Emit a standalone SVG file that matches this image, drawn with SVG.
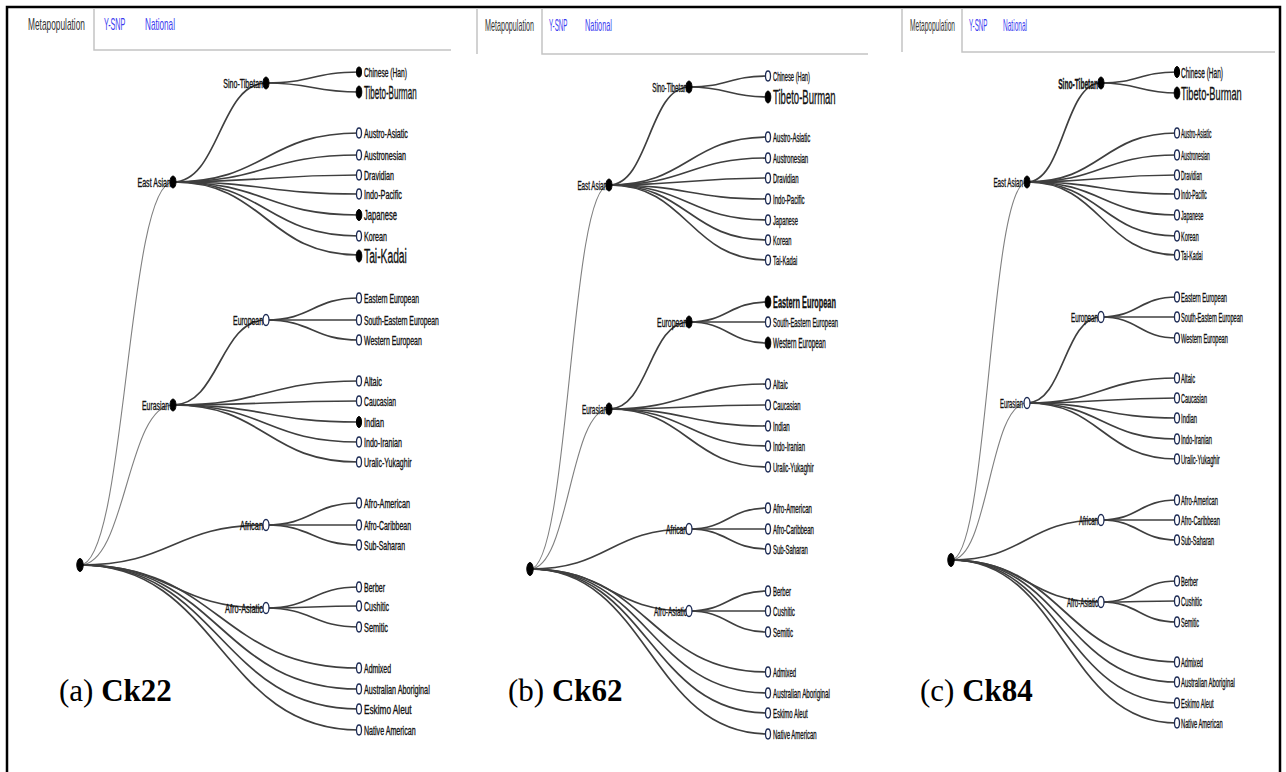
<svg xmlns="http://www.w3.org/2000/svg" width="1286" height="772" viewBox="0 0 1286 772">
<style>
text{font-family:"Liberation Sans",Arial,sans-serif;fill:#111}
.ln{fill:none;stroke:#3f3f3f;stroke-width:1.7}
.thin{stroke:#808080;stroke-width:1.1}
.op{fill:#fff;stroke:#1d2b55;stroke-width:1.3}
.fl{fill:#000;stroke:#000;stroke-width:1}
.lf{font-size:12.5px;stroke:#111;stroke-width:0.35}
.in{font-size:12px;text-anchor:end;stroke:#111;stroke-width:0.35}
.tab{font-size:16px;fill:#333}
.blue{fill:#3a3cf0}
.tl{fill:none;stroke:#c4c4c4;stroke-width:1.5}
.cap{font-family:"Liberation Serif","Times New Roman",serif;font-size:31px;fill:#000}
.frame{fill:none;stroke:#000;stroke-width:2.5}
</style>
<path class="frame" d="M7,772V7H1280V772"/>

<!-- ================= Panel (a) ================= -->
<g id="a-tabs">
<path class="tl" d="M94,8V50H451"/>
<text class="tab" transform="matrix(0.521 0 0 1 28 30)">Metapopulation</text>
<text class="tab blue" transform="matrix(0.45 0 0 1 104 30)">Y-SNP</text>
<text class="tab blue" transform="matrix(0.511 0 0 1 145 30)">National</text>
</g>
<g id="a-links" class="ln">
<path class="thin" d="M80,565C126.5,565 126.5,182 173,182"/>
<path class="thin" d="M80,565C126.5,565 126.5,405 173,405"/>
<path d="M80,565C173,565 173,525 266,525"/>
<path d="M80,565C173,565 173,608 266,608"/>
<path d="M80,565C219.5,565 219.5,668 359,668"/>
<path d="M80,565C219.5,565 219.5,689 359,689"/>
<path d="M80,565C219.5,565 219.5,709 359,709"/>
<path d="M80,565C219.5,565 219.5,730 359,730"/>
<path d="M173,182C219.5,182 219.5,83 266,83"/>
<path d="M173,182C266,182 266,133 359,133"/>
<path d="M173,182C266,182 266,155 359,155"/>
<path d="M173,182C266,182 266,175 359,175"/>
<path d="M173,182C266,182 266,194 359,194"/>
<path d="M173,182C266,182 266,215 359,215"/>
<path d="M173,182C266,182 266,236 359,236"/>
<path d="M173,182C266,182 266,255 359,255"/>
<path d="M266,83C312.5,83 312.5,72 359,72"/>
<path d="M266,83C312.5,83 312.5,92 359,92"/>
<path d="M173,405C219.5,405 219.5,320 266,320"/>
<path d="M173,405C266,405 266,381 359,381"/>
<path d="M173,405C266,405 266,401 359,401"/>
<path d="M173,405C266,405 266,422 359,422"/>
<path d="M173,405C266,405 266,442 359,442"/>
<path d="M173,405C266,405 266,462 359,462"/>
<path d="M266,320C312.5,320 312.5,298 359,298"/>
<path d="M266,320C312.5,320 312.5,320 359,320"/>
<path d="M266,320C312.5,320 312.5,340 359,340"/>
<path d="M266,525C312.5,525 312.5,503 359,503"/>
<path d="M266,525C312.5,525 312.5,525 359,525"/>
<path d="M266,525C312.5,525 312.5,545 359,545"/>
<path d="M266,608C312.5,608 312.5,587 359,587"/>
<path d="M266,608C312.5,608 312.5,606 359,606"/>
<path d="M266,608C312.5,608 312.5,627 359,627"/>
</g>
<g id="a-root"><ellipse class="fl" cx="80" cy="565" rx="3.2" ry="6.5"/></g>
<g id="a-east-asian"><text class="in" transform="matrix(0.592 0 0 1 171 186.5)">East Asian</text><ellipse class="fl" cx="173" cy="182" rx="3" ry="6"/></g>
<g id="a-sino-tibetan"><text class="in" transform="matrix(0.588 0 0 1 263 87.5)">Sino-Tibetan</text><ellipse class="fl" cx="266" cy="83" rx="3" ry="6"/></g>
<g id="a-eurasian"><text class="in" transform="matrix(0.57 0 0 1 169 409.5)">Eurasian</text><ellipse class="fl" cx="173" cy="405" rx="3" ry="6"/></g>
<g id="a-european"><text class="in" transform="matrix(0.576 0 0 1 263 324.5)">European</text><ellipse class="op" cx="266" cy="320" rx="3" ry="5.5"/></g>
<g id="a-african"><text class="in" transform="matrix(0.616 0 0 1 263 529.5)">African</text><ellipse class="op" cx="266" cy="525" rx="3" ry="5.5"/></g>
<g id="a-afro-asiatic"><text class="in" transform="matrix(0.619 0 0 1 263 612.5)">Afro-Asiatic</text><ellipse class="op" cx="266" cy="608" rx="3" ry="5.5"/></g>
<g id="a-chinese-han"><ellipse class="fl" cx="359" cy="72" rx="2.5" ry="5"/><text class="lf" transform="matrix(0.534 0 0 1 364 76.5)">Chinese (Han)</text></g>
<g id="a-tibeto-burman"><ellipse class="fl" cx="359" cy="92" rx="2.8" ry="6"/><text class="lf" style="font-size:18px" transform="matrix(0.445 0 0 1 364 98.5)">Tibeto-Burman</text></g>
<g id="a-austro-asiatic"><ellipse class="op" cx="359" cy="133" rx="2.5" ry="5"/><text class="lf" transform="matrix(0.571 0 0 1 364 137.5)">Austro-Asiatic</text></g>
<g id="a-austronesian"><ellipse class="op" cx="359" cy="155" rx="2.5" ry="5"/><text class="lf" transform="matrix(0.576 0 0 1 364 159.5)">Austronesian</text></g>
<g id="a-dravidian"><ellipse class="op" cx="359" cy="175" rx="2.5" ry="5"/><text class="lf" transform="matrix(0.568 0 0 1 364 179.5)">Dravidian</text></g>
<g id="a-indo-pacific"><ellipse class="op" cx="359" cy="194" rx="2.5" ry="5"/><text class="lf" transform="matrix(0.582 0 0 1 364 198.5)">Indo-Pacific</text></g>
<g id="a-japanese"><ellipse class="fl" cx="359" cy="215" rx="2.8" ry="5.5"/><text class="lf" style="font-size:14.5px" transform="matrix(0.525 0 0 1 364 220)">Japanese</text></g>
<g id="a-korean"><ellipse class="op" cx="359" cy="236" rx="2.5" ry="5"/><text class="lf" transform="matrix(0.571 0 0 1 364 240.5)">Korean</text></g>
<g id="a-tai-kadai"><ellipse class="fl" cx="359" cy="256" rx="2.8" ry="6"/><text class="lf" style="font-size:21px" transform="matrix(0.49 0 0 1 364 263)">Tai-Kadai</text></g>
<g id="a-eastern-european"><ellipse class="op" cx="359" cy="298" rx="2.5" ry="5"/><text class="lf" transform="matrix(0.546 0 0 1 364 302.5)">Eastern European</text></g>
<g id="a-south-eastern-european"><ellipse class="op" cx="359" cy="320" rx="2.5" ry="5"/><text class="lf" transform="matrix(0.545 0 0 1 364 324.5)">South-Eastern European</text></g>
<g id="a-western-european"><ellipse class="op" cx="359" cy="340" rx="2.5" ry="5"/><text class="lf" transform="matrix(0.556 0 0 1 364 344.5)">Western European</text></g>
<g id="a-altaic"><ellipse class="op" cx="359" cy="381" rx="2.5" ry="5"/><text class="lf" transform="matrix(0.589 0 0 1 364 385.5)">Altaic</text></g>
<g id="a-caucasian"><ellipse class="op" cx="359" cy="401" rx="2.5" ry="5"/><text class="lf" transform="matrix(0.542 0 0 1 364 405.5)">Caucasian</text></g>
<g id="a-indian"><ellipse class="fl" cx="359" cy="422" rx="2.6" ry="5.5"/><text class="lf" transform="matrix(0.588 0 0 1 364 426.5)">Indian</text></g>
<g id="a-indo-iranian"><ellipse class="op" cx="359" cy="442" rx="2.5" ry="5"/><text class="lf" transform="matrix(0.569 0 0 1 364 446.5)">Indo-Iranian</text></g>
<g id="a-uralic-yukaghir"><ellipse class="op" cx="359" cy="462" rx="2.5" ry="5"/><text class="lf" transform="matrix(0.562 0 0 1 364 466.5)">Uralic-Yukaghir</text></g>
<g id="a-afro-american"><ellipse class="op" cx="359" cy="503" rx="2.5" ry="5"/><text class="lf" transform="matrix(0.576 0 0 1 364 507.5)">Afro-American</text></g>
<g id="a-afro-caribbean"><ellipse class="op" cx="359" cy="525" rx="2.5" ry="5"/><text class="lf" transform="matrix(0.554 0 0 1 364 529.5)">Afro-Caribbean</text></g>
<g id="a-sub-saharan"><ellipse class="op" cx="359" cy="545" rx="2.5" ry="5"/><text class="lf" transform="matrix(0.557 0 0 1 364 549.5)">Sub-Saharan</text></g>
<g id="a-berber"><ellipse class="op" cx="359" cy="587" rx="2.5" ry="5"/><text class="lf" transform="matrix(0.56 0 0 1 364 591.5)">Berber</text></g>
<g id="a-cushitic"><ellipse class="op" cx="359" cy="606" rx="2.5" ry="5"/><text class="lf" transform="matrix(0.562 0 0 1 364 610.5)">Cushitic</text></g>
<g id="a-semitic"><ellipse class="op" cx="359" cy="627" rx="2.5" ry="5"/><text class="lf" transform="matrix(0.586 0 0 1 364 631.5)">Semitic</text></g>
<g id="a-admixed"><ellipse class="op" cx="359" cy="668" rx="2.5" ry="5"/><text class="lf" transform="matrix(0.555 0 0 1 364 672.5)">Admixed</text></g>
<g id="a-australian-aboriginal"><ellipse class="op" cx="359" cy="689" rx="2.5" ry="5"/><text class="lf" transform="matrix(0.578 0 0 1 364 693.5)">Australian Aboriginal</text></g>
<g id="a-eskimo-aleut"><ellipse class="op" cx="359" cy="709" rx="2.5" ry="5"/><text class="lf" transform="matrix(0.66 0 0 1 364 713.5)">Eskimo Aleut</text></g>
<g id="a-native-american"><ellipse class="op" cx="359" cy="730" rx="2.5" ry="5"/><text class="lf" transform="matrix(0.567 0 0 1 364 734.5)">Native American</text></g>
<text class="cap" x="59" y="701">(a) <tspan style="font-family:'Liberation Serif','Times New Roman',serif;font-weight:bold">Ck22</tspan></text>

<!-- ================= Panel (b) ================= -->
<g id="b-tabs">
<path class="tl" d="M477,8V54M542,8V54H868"/>
<text class="tab" transform="matrix(0.448 0 0 1 485 31)">Metapopulation</text>
<text class="tab blue" transform="matrix(0.389 0 0 1 549 31)">Y-SNP</text>
<text class="tab blue" transform="matrix(0.459 0 0 1 585 31)">National</text>
</g>
<g id="b-links" class="ln">
<path class="thin" d="M530,569C569.5,569 569.5,185 609,185"/>
<path class="thin" d="M530,569C569.5,569 569.5,409 609,409"/>
<path d="M530,569C609.5,569 609.5,529 689,529"/>
<path d="M530,569C609.5,569 609.5,611 689,611"/>
<path d="M530,569C649,569 649,672 768,672"/>
<path d="M530,569C649,569 649,693 768,693"/>
<path d="M530,569C649,569 649,713 768,713"/>
<path d="M530,569C649,569 649,734 768,734"/>
<path d="M609,185C649,185 649,87 689,87"/>
<path d="M609,185C688.5,185 688.5,137 768,137"/>
<path d="M609,185C688.5,185 688.5,158 768,158"/>
<path d="M609,185C688.5,185 688.5,178 768,178"/>
<path d="M609,185C688.5,185 688.5,199 768,199"/>
<path d="M609,185C688.5,185 688.5,220 768,220"/>
<path d="M609,185C688.5,185 688.5,240 768,240"/>
<path d="M609,185C688.5,185 688.5,260 768,260"/>
<path d="M689,87C728.5,87 728.5,76 768,76"/>
<path d="M689,87C728.5,87 728.5,97 768,97"/>
<path d="M609,409C649,409 649,322 689,322"/>
<path d="M609,409C688.5,409 688.5,384 768,384"/>
<path d="M609,409C688.5,409 688.5,405 768,405"/>
<path d="M609,409C688.5,409 688.5,426 768,426"/>
<path d="M609,409C688.5,409 688.5,446 768,446"/>
<path d="M609,409C688.5,409 688.5,467 768,467"/>
<path d="M689,322C728.5,322 728.5,302 768,302"/>
<path d="M689,322C728.5,322 728.5,322 768,322"/>
<path d="M689,322C728.5,322 728.5,343 768,343"/>
<path d="M689,529C728.5,529 728.5,508 768,508"/>
<path d="M689,529C728.5,529 728.5,529 768,529"/>
<path d="M689,529C728.5,529 728.5,549 768,549"/>
<path d="M689,611C728.5,611 728.5,591 768,591"/>
<path d="M689,611C728.5,611 728.5,611 768,611"/>
<path d="M689,611C728.5,611 728.5,632 768,632"/>
</g>
<g id="b-root"><ellipse class="fl" cx="530" cy="569" rx="3.2" ry="6.5"/></g>
<g id="b-east-asian"><text class="in" transform="matrix(0.523 0 0 1 607 189.5)">East Asian</text><ellipse class="fl" cx="609" cy="185" rx="3" ry="6"/></g>
<g id="b-sino-tibetan"><text class="in" transform="matrix(0.514 0 0 1 687 91.5)">Sino-Tibetan</text><ellipse class="fl" cx="689" cy="87" rx="3" ry="6"/></g>
<g id="b-eurasian"><text class="in" transform="matrix(0.528 0 0 1 607 413.5)">Eurasian</text><ellipse class="fl" cx="609" cy="409" rx="3" ry="6"/></g>
<g id="b-european"><text class="in" transform="matrix(0.576 0 0 1 687 326.5)">European</text><ellipse class="fl" cx="689" cy="322" rx="3" ry="6"/></g>
<g id="b-african"><text class="in" transform="matrix(0.562 0 0 1 687 533.5)">African</text><ellipse class="op" cx="689" cy="529" rx="3" ry="5.5"/></g>
<g id="b-afro-asiatic"><text class="in" transform="matrix(0.538 0 0 1 687 615.5)">Afro-Asiatic</text><ellipse class="op" cx="689" cy="611" rx="3" ry="5.5"/></g>
<g id="b-chinese-han"><ellipse class="op" cx="768" cy="76" rx="2.5" ry="5"/><text class="lf" transform="matrix(0.459 0 0 1 773 80.5)">Chinese (Han)</text></g>
<g id="b-tibeto-burman"><ellipse class="fl" cx="768" cy="97" rx="2.8" ry="6"/><text class="lf" style="font-size:21px" transform="matrix(0.454 0 0 1 773 104)">Tibeto-Burman</text></g>
<g id="b-austro-asiatic"><ellipse class="op" cx="768" cy="137" rx="2.5" ry="5"/><text class="lf" transform="matrix(0.484 0 0 1 773 141.5)">Austro-Asiatic</text></g>
<g id="b-austronesian"><ellipse class="op" cx="768" cy="158" rx="2.5" ry="5"/><text class="lf" transform="matrix(0.484 0 0 1 773 162.5)">Austronesian</text></g>
<g id="b-dravidian"><ellipse class="op" cx="768" cy="178" rx="2.5" ry="5"/><text class="lf" transform="matrix(0.484 0 0 1 773 182.5)">Dravidian</text></g>
<g id="b-indo-pacific"><ellipse class="op" cx="768" cy="199" rx="2.5" ry="5"/><text class="lf" transform="matrix(0.484 0 0 1 773 203.5)">Indo-Pacific</text></g>
<g id="b-japanese"><ellipse class="op" cx="768" cy="220" rx="2.5" ry="5"/><text class="lf" transform="matrix(0.458 0 0 1 773 224.5)">Japanese</text></g>
<g id="b-korean"><ellipse class="op" cx="768" cy="240" rx="2.5" ry="5"/><text class="lf" transform="matrix(0.458 0 0 1 773 244.5)">Korean</text></g>
<g id="b-tai-kadai"><ellipse class="op" cx="768" cy="260" rx="2.5" ry="5"/><text class="lf" transform="matrix(0.466 0 0 1 773 264.5)">Tai-Kadai</text></g>
<g id="b-eastern-european"><ellipse class="fl" cx="768" cy="302" rx="2.8" ry="6"/><text class="lf" style="font-size:16.5px;font-weight:bold" transform="matrix(0.446 0 0 1 773 308)">Eastern European</text></g>
<g id="b-south-eastern-european"><ellipse class="op" cx="768" cy="322" rx="2.5" ry="5"/><text class="lf" transform="matrix(0.473 0 0 1 773 326.5)">South-Eastern European</text></g>
<g id="b-western-european"><ellipse class="fl" cx="768" cy="343" rx="2.8" ry="6"/><text class="lf" style="font-size:14.5px" transform="matrix(0.438 0 0 1 773 348)">Western European</text></g>
<g id="b-altaic"><ellipse class="op" cx="768" cy="384" rx="2.5" ry="5"/><text class="lf" transform="matrix(0.484 0 0 1 773 388.5)">Altaic</text></g>
<g id="b-caucasian"><ellipse class="op" cx="768" cy="405" rx="2.5" ry="5"/><text class="lf" transform="matrix(0.466 0 0 1 773 409.5)">Caucasian</text></g>
<g id="b-indian"><ellipse class="op" cx="768" cy="426" rx="2.5" ry="5"/><text class="lf" transform="matrix(0.493 0 0 1 773 430.5)">Indian</text></g>
<g id="b-indo-iranian"><ellipse class="op" cx="768" cy="446" rx="2.5" ry="5"/><text class="lf" transform="matrix(0.48 0 0 1 773 450.5)">Indo-Iranian</text></g>
<g id="b-uralic-yukaghir"><ellipse class="op" cx="768" cy="467" rx="2.5" ry="5"/><text class="lf" transform="matrix(0.48 0 0 1 773 471.5)">Uralic-Yukaghir</text></g>
<g id="b-afro-american"><ellipse class="op" cx="768" cy="508" rx="2.5" ry="5"/><text class="lf" transform="matrix(0.488 0 0 1 773 512.5)">Afro-American</text></g>
<g id="b-afro-caribbean"><ellipse class="op" cx="768" cy="529" rx="2.5" ry="5"/><text class="lf" transform="matrix(0.484 0 0 1 773 533.5)">Afro-Caribbean</text></g>
<g id="b-sub-saharan"><ellipse class="op" cx="768" cy="549" rx="2.5" ry="5"/><text class="lf" transform="matrix(0.475 0 0 1 773 553.5)">Sub-Saharan</text></g>
<g id="b-berber"><ellipse class="op" cx="768" cy="591" rx="2.5" ry="5"/><text class="lf" transform="matrix(0.48 0 0 1 773 595.5)">Berber</text></g>
<g id="b-cushitic"><ellipse class="op" cx="768" cy="611" rx="2.5" ry="5"/><text class="lf" transform="matrix(0.493 0 0 1 773 615.5)">Cushitic</text></g>
<g id="b-semitic"><ellipse class="op" cx="768" cy="632" rx="2.5" ry="5"/><text class="lf" transform="matrix(0.488 0 0 1 773 636.5)">Semitic</text></g>
<g id="b-admixed"><ellipse class="op" cx="768" cy="672" rx="2.5" ry="5"/><text class="lf" transform="matrix(0.475 0 0 1 773 676.5)">Admixed</text></g>
<g id="b-australian-aboriginal"><ellipse class="op" cx="768" cy="693" rx="2.5" ry="5"/><text class="lf" transform="matrix(0.5 0 0 1 773 697.5)">Australian Aboriginal</text></g>
<g id="b-eskimo-aleut"><ellipse class="op" cx="768" cy="713" rx="2.5" ry="5"/><text class="lf" transform="matrix(0.48 0 0 1 773 717.5)">Eskimo Aleut</text></g>
<g id="b-native-american"><ellipse class="op" cx="768" cy="734" rx="2.5" ry="5"/><text class="lf" transform="matrix(0.48 0 0 1 773 738.5)">Native American</text></g>
<text class="cap" x="508" y="701">(b) <tspan style="font-family:'Liberation Serif','Times New Roman',serif;font-weight:bold">Ck62</tspan></text>

<!-- ================= Panel (c) ================= -->
<g id="c-tabs">
<path class="tl" d="M902,8V52M962,8V52H1275"/>
<text class="tab" transform="matrix(0.412 0 0 1 910 31)">Metapopulation</text>
<text class="tab blue" transform="matrix(0.389 0 0 1 969 31)">Y-SNP</text>
<text class="tab blue" transform="matrix(0.409 0 0 1 1003 31)">National</text>
</g>
<g id="c-links" class="ln">
<path class="thin" d="M951,560C989,560 989,182 1027,182"/>
<path class="thin" d="M951,560C989,560 989,403 1027,403"/>
<path d="M951,560C1026,560 1026,520 1101,520"/>
<path d="M951,560C1026,560 1026,602 1101,602"/>
<path d="M951,560C1064,560 1064,662 1177,662"/>
<path d="M951,560C1064,560 1064,682 1177,682"/>
<path d="M951,560C1064,560 1064,703 1177,703"/>
<path d="M951,560C1064,560 1064,723 1177,723"/>
<path d="M1027,182C1064,182 1064,83 1101,83"/>
<path d="M1027,182C1102,182 1102,133 1177,133"/>
<path d="M1027,182C1102,182 1102,155 1177,155"/>
<path d="M1027,182C1102,182 1102,175 1177,175"/>
<path d="M1027,182C1102,182 1102,194 1177,194"/>
<path d="M1027,182C1102,182 1102,215 1177,215"/>
<path d="M1027,182C1102,182 1102,236 1177,236"/>
<path d="M1027,182C1102,182 1102,255 1177,255"/>
<path d="M1101,83C1139,83 1139,72 1177,72"/>
<path d="M1101,83C1139,83 1139,93 1177,93"/>
<path d="M1027,403C1064,403 1064,317 1101,317"/>
<path d="M1027,403C1102,403 1102,378 1177,378"/>
<path d="M1027,403C1102,403 1102,398 1177,398"/>
<path d="M1027,403C1102,403 1102,418 1177,418"/>
<path d="M1027,403C1102,403 1102,439 1177,439"/>
<path d="M1027,403C1102,403 1102,459 1177,459"/>
<path d="M1101,317C1139,317 1139,297 1177,297"/>
<path d="M1101,317C1139,317 1139,317 1177,317"/>
<path d="M1101,317C1139,317 1139,338 1177,338"/>
<path d="M1101,520C1139,520 1139,500 1177,500"/>
<path d="M1101,520C1139,520 1139,520 1177,520"/>
<path d="M1101,520C1139,520 1139,540 1177,540"/>
<path d="M1101,602C1139,602 1139,581 1177,581"/>
<path d="M1101,602C1139,602 1139,601 1177,601"/>
<path d="M1101,602C1139,602 1139,622 1177,622"/>
</g>
<g id="c-root"><ellipse class="fl" cx="951" cy="560" rx="3.2" ry="6.5"/></g>
<g id="c-east-asian"><text class="in" transform="matrix(0.523 0 0 1 1023 186.5)">East Asian</text><ellipse class="fl" cx="1027" cy="182" rx="3" ry="6"/></g>
<g id="c-sino-tibetan"><text class="in" style="font-size:14px;font-weight:bold" transform="matrix(0.472 0 0 1 1098 88.5)">Sino-Tibetan</text><ellipse class="fl" cx="1101" cy="83" rx="3" ry="6"/></g>
<g id="c-eurasian"><text class="in" transform="matrix(0.486 0 0 1 1023 407.5)">Eurasian</text><ellipse class="op" cx="1027" cy="403" rx="3" ry="5.5"/></g>
<g id="c-european"><text class="in" transform="matrix(0.519 0 0 1 1098 321.5)">European</text><ellipse class="op" cx="1101" cy="317" rx="3" ry="5.5"/></g>
<g id="c-african"><text class="in" transform="matrix(0.508 0 0 1 1098 524.5)">African</text><ellipse class="op" cx="1101" cy="520" rx="3" ry="5.5"/></g>
<g id="c-afro-asiatic"><text class="in" transform="matrix(0.505 0 0 1 1098 606.5)">Afro-Asiatic</text><ellipse class="op" cx="1101" cy="602" rx="3" ry="5.5"/></g>
<g id="c-chinese-han"><ellipse class="fl" cx="1177" cy="72" rx="2.6" ry="5.5"/><text class="lf" style="font-size:15px" transform="matrix(0.434 0 0 1 1181 77.5)">Chinese (Han)</text></g>
<g id="c-tibeto-burman"><ellipse class="fl" cx="1177" cy="93" rx="2.8" ry="6"/><text class="lf" style="font-size:19px" transform="matrix(0.486 0 0 1 1181 100)">Tibeto-Burman</text></g>
<g id="c-austro-asiatic"><ellipse class="op" cx="1177" cy="133" rx="2.5" ry="5"/><text class="lf" transform="matrix(0.396 0 0 1 1181 137.5)">Austro-Asiatic</text></g>
<g id="c-austronesian"><ellipse class="op" cx="1177" cy="155" rx="2.5" ry="5"/><text class="lf" transform="matrix(0.396 0 0 1 1181 159.5)">Austronesian</text></g>
<g id="c-dravidian"><ellipse class="op" cx="1177" cy="175" rx="2.5" ry="5"/><text class="lf" transform="matrix(0.396 0 0 1 1181 179.5)">Dravidian</text></g>
<g id="c-indo-pacific"><ellipse class="op" cx="1177" cy="194" rx="2.5" ry="5"/><text class="lf" transform="matrix(0.396 0 0 1 1181 198.5)">Indo-Pacific</text></g>
<g id="c-japanese"><ellipse class="op" cx="1177" cy="215" rx="2.5" ry="5"/><text class="lf" transform="matrix(0.414 0 0 1 1181 219.5)">Japanese</text></g>
<g id="c-korean"><ellipse class="op" cx="1177" cy="236" rx="2.5" ry="5"/><text class="lf" transform="matrix(0.44 0 0 1 1181 240.5)">Korean</text></g>
<g id="c-tai-kadai"><ellipse class="op" cx="1177" cy="255" rx="2.5" ry="5"/><text class="lf" transform="matrix(0.414 0 0 1 1181 259.5)">Tai-Kadai</text></g>
<g id="c-eastern-european"><ellipse class="op" cx="1177" cy="297" rx="2.5" ry="5"/><text class="lf" transform="matrix(0.457 0 0 1 1181 301.5)">Eastern European</text></g>
<g id="c-south-eastern-european"><ellipse class="op" cx="1177" cy="317" rx="2.5" ry="5"/><text class="lf" transform="matrix(0.451 0 0 1 1181 321.5)">South-Eastern European</text></g>
<g id="c-western-european"><ellipse class="op" cx="1177" cy="338" rx="2.5" ry="5"/><text class="lf" transform="matrix(0.451 0 0 1 1181 342.5)">Western European</text></g>
<g id="c-altaic"><ellipse class="op" cx="1177" cy="378" rx="2.5" ry="5"/><text class="lf" transform="matrix(0.458 0 0 1 1181 382.5)">Altaic</text></g>
<g id="c-caucasian"><ellipse class="op" cx="1177" cy="398" rx="2.5" ry="5"/><text class="lf" transform="matrix(0.44 0 0 1 1181 402.5)">Caucasian</text></g>
<g id="c-indian"><ellipse class="op" cx="1177" cy="418" rx="2.5" ry="5"/><text class="lf" transform="matrix(0.47 0 0 1 1181 422.5)">Indian</text></g>
<g id="c-indo-iranian"><ellipse class="op" cx="1177" cy="439" rx="2.5" ry="5"/><text class="lf" transform="matrix(0.465 0 0 1 1181 443.5)">Indo-Iranian</text></g>
<g id="c-uralic-yukaghir"><ellipse class="op" cx="1177" cy="459" rx="2.5" ry="5"/><text class="lf" transform="matrix(0.457 0 0 1 1181 463.5)">Uralic-Yukaghir</text></g>
<g id="c-afro-american"><ellipse class="op" cx="1177" cy="500" rx="2.5" ry="5"/><text class="lf" transform="matrix(0.463 0 0 1 1181 504.5)">Afro-American</text></g>
<g id="c-afro-caribbean"><ellipse class="op" cx="1177" cy="520" rx="2.5" ry="5"/><text class="lf" transform="matrix(0.46 0 0 1 1181 524.5)">Afro-Caribbean</text></g>
<g id="c-sub-saharan"><ellipse class="op" cx="1177" cy="540" rx="2.5" ry="5"/><text class="lf" transform="matrix(0.448 0 0 1 1181 544.5)">Sub-Saharan</text></g>
<g id="c-berber"><ellipse class="op" cx="1177" cy="581" rx="2.5" ry="5"/><text class="lf" transform="matrix(0.453 0 0 1 1181 585.5)">Berber</text></g>
<g id="c-cushitic"><ellipse class="op" cx="1177" cy="601" rx="2.5" ry="5"/><text class="lf" transform="matrix(0.473 0 0 1 1181 605.5)">Cushitic</text></g>
<g id="c-semitic"><ellipse class="op" cx="1177" cy="622" rx="2.5" ry="5"/><text class="lf" transform="matrix(0.44 0 0 1 1181 626.5)">Semitic</text></g>
<g id="c-admixed"><ellipse class="op" cx="1177" cy="662" rx="2.5" ry="5"/><text class="lf" transform="matrix(0.452 0 0 1 1181 666.5)">Admixed</text></g>
<g id="c-australian-aboriginal"><ellipse class="op" cx="1177" cy="682" rx="2.5" ry="5"/><text class="lf" transform="matrix(0.473 0 0 1 1181 686.5)">Australian Aboriginal</text></g>
<g id="c-eskimo-aleut"><ellipse class="op" cx="1177" cy="703" rx="2.5" ry="5"/><text class="lf" transform="matrix(0.452 0 0 1 1181 707.5)">Eskimo Aleut</text></g>
<g id="c-native-american"><ellipse class="op" cx="1177" cy="723" rx="2.5" ry="5"/><text class="lf" transform="matrix(0.458 0 0 1 1181 727.5)">Native American</text></g>
<text class="cap" x="920" y="701">(c) <tspan style="font-family:'Liberation Serif','Times New Roman',serif;font-weight:bold">Ck84</tspan></text>
</svg>
